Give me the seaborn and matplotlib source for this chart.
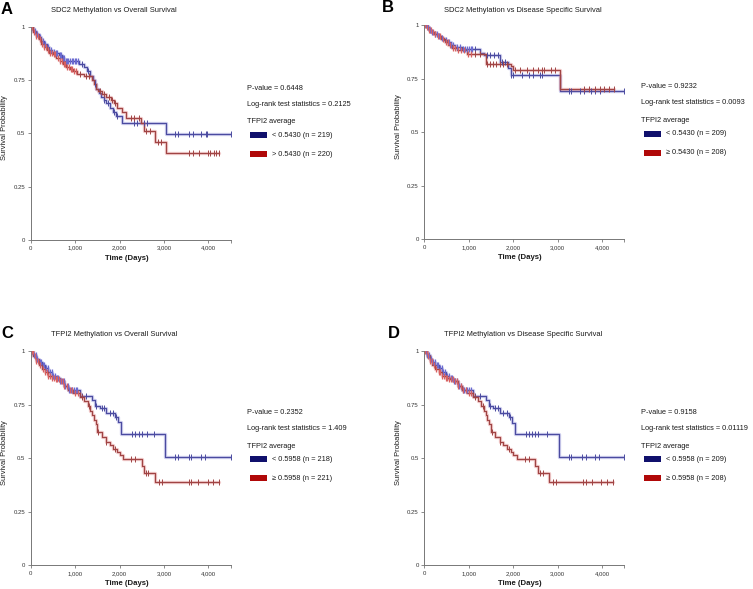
import numpy as np
import pandas as pd
import matplotlib
matplotlib.use("Agg")
import matplotlib.pyplot as plt
import matplotlib.patches as mpatches
import seaborn as sns

# ---- data (Kaplan-Meier steps: event time, survival after it) ----
a_lo_t = [0, 60, 120, 180, 240, 300, 360, 420, 480, 560, 640, 700, 760, 1080, 1200, 1260, 1330, 1400,
          1440, 1480, 1530, 1580, 1640, 1700, 1780, 1850, 1920, 2050, 3050]
a_lo_s = [1, 0.98, 0.965, 0.95, 0.935, 0.92, 0.905, 0.89, 0.88, 0.875, 0.865, 0.855, 0.84, 0.825, 0.81,
          0.79, 0.77, 0.75, 0.73, 0.71, 0.69, 0.67, 0.655, 0.64, 0.62, 0.60, 0.58, 0.55, 0.495]
a_lo_cens = [40, 100, 150, 200, 270, 330, 390, 450, 520, 570, 600, 650, 680, 720, 750, 790, 820, 850,
             880, 920, 950, 1000, 1030, 1060, 1150, 1300, 1450, 1650, 1750, 1880, 1950, 2320, 2390,
             2540, 2620, 3240, 3320, 3570, 3655, 3840, 3940, 3975, 4500]
a_hi_t = [0, 60, 120, 180, 240, 300, 360, 420, 500, 580, 650, 720, 800, 880, 960, 1050, 1200, 1380, 1420,
          1470, 1520, 1600, 1700, 1800, 1880, 1950, 2050, 2150, 2480, 2550, 2800, 3050]
a_hi_s = [1, 0.975, 0.955, 0.94, 0.92, 0.905, 0.89, 0.875, 0.87, 0.855, 0.84, 0.825, 0.81, 0.80, 0.79,
          0.78, 0.77, 0.75, 0.73, 0.71, 0.70, 0.685, 0.67, 0.655, 0.64, 0.62, 0.60, 0.57, 0.55, 0.51, 0.46, 0.41]
a_hi_cens = [30, 80, 130, 160, 210, 260, 300, 350, 390, 430, 470, 520, 550, 610, 660, 700, 740, 780,
             820, 860, 900, 940, 980, 1020, 1120, 1250, 1320, 1550, 1650, 1760, 1840, 1900, 2250, 2330,
             2430, 2600, 2680, 2870, 2940, 3570, 3655, 3780, 3985, 4045, 4120, 4180, 4245]

b_lo_t = [0, 50, 100, 150, 220, 300, 380, 450, 520, 600, 700, 850, 1250, 1350, 1700, 1880, 1950, 3050]
b_lo_s = [1, 0.99, 0.98, 0.97, 0.96, 0.95, 0.94, 0.93, 0.92, 0.91, 0.90, 0.89, 0.87, 0.86, 0.83, 0.80,
          0.77, 0.695]
b_lo_cens = [30, 80, 130, 180, 240, 280, 340, 400, 480, 560, 610, 650, 740, 800, 880, 920, 950, 1000,
             1040, 1080, 1150, 1400, 1480, 1560, 1650, 1750, 1820, 1960, 2000, 2200, 2350, 2450, 2600,
             2650, 3250, 3300, 3500, 3600, 3750, 3850, 3950, 4500]
b_hi_t = [0, 50, 100, 160, 230, 300, 380, 460, 540, 620, 730, 950, 1380, 1950, 2000, 3050]
b_hi_s = [1, 0.99, 0.98, 0.97, 0.96, 0.95, 0.935, 0.92, 0.91, 0.895, 0.885, 0.865, 0.82, 0.81, 0.79, 0.70]
b_hi_cens = [20, 60, 110, 150, 200, 250, 310, 350, 420, 480, 530, 580, 640, 680, 760, 830, 900, 980,
             1050, 1150, 1250, 1420, 1480, 1550, 1620, 1700, 1780, 1850, 2050, 2150, 2300, 2450, 2550,
             2650, 2700, 2850, 2950, 3600, 3700, 3850, 3950, 4050, 4150, 4260]

c_lo_t = [0, 60, 120, 180, 250, 320, 400, 480, 560, 650, 750, 850, 1100, 1380, 1450, 1550, 1700, 1900,
          1960, 2030, 3030]
c_lo_s = [1, 0.98, 0.965, 0.95, 0.935, 0.92, 0.90, 0.885, 0.875, 0.86, 0.835, 0.82, 0.79, 0.77, 0.745,
          0.735, 0.71, 0.69, 0.67, 0.615, 0.505]
c_lo_cens = [30, 70, 110, 150, 200, 230, 280, 310, 350, 390, 430, 470, 510, 550, 590, 620, 660, 700,
             740, 780, 830, 870, 900, 940, 970, 1010, 1040, 1150, 1250, 1480, 1600, 1650, 1780, 1850,
             1920, 2280, 2350, 2430, 2500, 2620, 2770, 3255, 3310, 3555, 3615, 3840, 3915, 4500]
c_hi_t = [0, 60, 120, 180, 250, 320, 400, 480, 560, 650, 750, 850, 950, 1100, 1200, 1280, 1340, 1380,
          1420, 1460, 1500, 1600, 1700, 1780, 1850, 1950, 2000, 2080, 2500, 2550, 2800]
c_hi_s = [1, 0.975, 0.955, 0.935, 0.915, 0.90, 0.885, 0.875, 0.87, 0.86, 0.835, 0.82, 0.805, 0.785,
          0.765, 0.745, 0.72, 0.70, 0.68, 0.66, 0.62, 0.60, 0.575, 0.56, 0.545, 0.53, 0.515, 0.495,
          0.465, 0.43, 0.39]
c_hi_cens = [20, 50, 90, 130, 170, 220, 270, 320, 360, 400, 440, 480, 520, 560, 600, 640, 690, 730,
             760, 820, 880, 940, 1000, 1060, 1150, 1320, 1520, 1700, 1900, 2260, 2350, 2600, 2650,
             2880, 2950, 3555, 3615, 3770, 3985, 4105, 4230]

d_lo_t = [0, 60, 120, 180, 250, 320, 400, 480, 560, 650, 750, 850, 1100, 1380, 1450, 1550, 1700, 1900,
          1970, 2045, 3040]
d_lo_s = [1, 0.98, 0.965, 0.95, 0.935, 0.92, 0.90, 0.885, 0.875, 0.86, 0.835, 0.82, 0.79, 0.77, 0.745,
          0.735, 0.71, 0.69, 0.665, 0.615, 0.505]
d_lo_cens = [30, 70, 110, 150, 200, 230, 280, 310, 350, 390, 430, 470, 510, 550, 590, 620, 660, 700,
             740, 780, 830, 870, 900, 940, 970, 1010, 1040, 1150, 1250, 1480, 1600, 1650, 1780, 1850,
             1920, 2280, 2350, 2430, 2500, 2560, 2770, 3255, 3310, 3555, 3640, 3840, 3920, 4500]
d_hi_t = [0, 60, 120, 180, 250, 320, 400, 480, 560, 650, 750, 850, 950, 1100, 1200, 1280, 1340, 1380,
          1420, 1460, 1500, 1600, 1700, 1780, 1850, 1950, 2000, 2080, 2500, 2560, 2810]
d_hi_s = [1, 0.975, 0.955, 0.935, 0.915, 0.90, 0.885, 0.875, 0.87, 0.86, 0.835, 0.82, 0.805, 0.785,
          0.765, 0.745, 0.72, 0.70, 0.68, 0.66, 0.62, 0.60, 0.575, 0.56, 0.545, 0.53, 0.515, 0.495,
          0.465, 0.43, 0.39]
d_hi_cens = [20, 50, 90, 130, 170, 220, 270, 320, 360, 400, 440, 480, 520, 560, 600, 640, 690, 730,
             760, 820, 880, 940, 1000, 1060, 1150, 1320, 1520, 1700, 1900, 2260, 2350, 2610, 2660,
             2890, 2960, 3560, 3630, 3770, 3985, 4105, 4240]

panel_letters = ["A", "B", "C", "D"]
titles = ["SDC2 Methylation vs Overall Survival", "SDC2 Methylation vs Disease Specific Survival",
          "TFPI2 Methylation vs Overall Survival", "TFPI2 Methylation vs Disease Specific Survival"]
p_values = ["0.6448", "0.9232", "0.2352", "0.9158"]
logrank = ["0.2125", "0.0093", "1.409", "0.01119"]
lo_labels = ["< 0.5430 (n = 219)", "< 0.5430 (n = 209)", "< 0.5958 (n = 218)", "< 0.5958 (n = 209)"]
hi_labels = ["> 0.5430 (n = 220)", "≥ 0.5430 (n = 208)", "≥ 0.5958 (n = 221)", "≥ 0.5958 (n = 208)"]
lo_ends = [4500, 4500, 4500, 4500]
hi_ends = [4245, 4260, 4230, 4240]

curves = [
    (a_lo_t, a_lo_s, a_lo_cens, a_hi_t, a_hi_s, a_hi_cens),
    (b_lo_t, b_lo_s, b_lo_cens, b_hi_t, b_hi_s, b_hi_cens),
    (c_lo_t, c_lo_s, c_lo_cens, c_hi_t, c_hi_s, c_hi_cens),
    (d_lo_t, d_lo_s, d_lo_cens, d_hi_t, d_hi_s, d_hi_cens),
]

sns.set_style("white")
plt.rcParams["font.family"] = ["Liberation Sans", "DejaVu Sans"]

W, H = 753, 589
fig = plt.figure(figsize=(W / 100, H / 100), dpi=100)


def fx(x):
    return x / W


def fy(y):
    return 1 - y / H


# axes boxes in pixels: left, top, right, bottom
boxes = [(30.7, 26.7, 230.7, 240.0), (424.3, 25.3, 624.3, 239.3),
         (30.7, 351.0, 230.7, 565.3), (424.3, 351.0, 624.3, 565.3)]
title_pos = [(114, 11), (523, 10), (114, 334), (523, 334)]
letter_pos = [(1, 10), (382, 8), (1, 333), (388, 334)]

blue_line, red_line = "#4b4ba0", "#a04444"
blue_tick, red_tick = "#6a6ad0", "#d86060"
blue_patch, red_patch = "#10106c", "#b00808"


def step_frame(times, surv, end):
    return pd.DataFrame({"time": list(times) + [end], "surv": list(surv) + [surv[-1]]})


def censor_frame(times, surv, cens):
    idx = np.searchsorted(np.array(times), np.array(cens), side="right") - 1
    return pd.DataFrame({"time": cens, "surv": np.array(surv)[idx]})


for i, (l, t, r, b) in enumerate(boxes):
    ax = fig.add_axes([fx(l), fy(b), fx(r - l), (b - t) / H])
    lo_t, lo_s, lo_c, hi_t, hi_s, hi_c = curves[i]

    for tt, ss, cc, end, lc, tc in [(lo_t, lo_s, lo_c, lo_ends[i], blue_line, blue_tick),
                                     (hi_t, hi_s, hi_c, hi_ends[i], red_line, red_tick)]:
        df = step_frame(tt, ss, end)
        sns.lineplot(data=df, x="time", y="surv", drawstyle="steps-post", color=tc, lw=2.4,
                     alpha=0.3, ax=ax, sort=False)
        sns.lineplot(data=df, x="time", y="surv", drawstyle="steps-post", color=lc, lw=0.9,
                     ax=ax, sort=False)
        cf = censor_frame(tt, ss, cc)
        early = cf[cf["time"] < 1100]
        late = cf[cf["time"] >= 1100]
        sns.scatterplot(data=early, x="time", y="surv", marker="|", s=24, linewidth=0.9, color=tc,
                        ax=ax, zorder=3)
        sns.scatterplot(data=late, x="time", y="surv", marker="|", s=22, linewidth=0.7, color=lc,
                        ax=ax, zorder=3)

    ax.set_xlim(0, 4500)
    ax.set_ylim(0, 1)
    ax.set_xticks([0, 1000, 2000, 3000, 4000, 4500])
    ax.set_xticklabels(["0", "1,000", "2,000", "3,000", "4,000", ""])
    ax.set_yticks([0, 0.25, 0.5, 0.75, 1])
    ax.set_yticklabels(["0", "0.25", "0.5", "0.75", "1"])
    ax.tick_params(axis="both", labelsize=4.3, length=2.5, width=0.6, color="#777777",
                   labelcolor="#333333", pad=1.5, left=True, bottom=True)
    ax.set_xlabel("")
    ax.set_ylabel("")
    for side in ["top", "right"]:
        ax.spines[side].set_visible(False)
    for side in ["left", "bottom"]:
        ax.spines[side].set_color("#777777")
        ax.spines[side].set_linewidth(0.7)
    ax.patch.set_alpha(0)

    # titles, labels, panel letters
    tx, ty = title_pos[i]
    fig.text(fx(tx), fy(ty), titles[i], ha="center", va="center", fontsize=5.4, color="#1a1a1a")
    lx, ly = letter_pos[i]
    fig.text(fx(lx), fy(ly), panel_letters[i], ha="left", va="center", fontsize=12,
             fontweight="bold", color="black")
    fig.text(fx((l + r) / 2 - 4), fy(b + 18), "Time (Days)", ha="center", va="center",
             fontsize=5.6, fontweight="bold", color="#1a1a1a")
    fig.text(fx(l - 26), fy((t + b) / 2 - 6), "Survival Probability", ha="center", va="center",
             rotation=90, fontsize=5.4, color="#1a1a1a")

    # statistics and group key on the right
    sx = r + 16.5
    fig.text(fx(sx), fy(t + 61.5), f"P-value = {p_values[i]}", ha="left", va="center",
             fontsize=5.3, color="#1a1a1a")
    fig.text(fx(sx), fy(t + 77.5), f"Log-rank test statistics = {logrank[i]}", ha="left",
             va="center", fontsize=5.3, color="#1a1a1a")
    fig.text(fx(sx), fy(t + 95), "TFPI2 average", ha="left", va="center", fontsize=5.3,
             color="#1a1a1a")
    for dy, pc, lab in [(108.3, blue_patch, lo_labels[i]), (127.3, red_patch, hi_labels[i])]:
        fig.add_artist(mpatches.Rectangle((fx(sx + 3), fy(t + dy + 3)), 17 / W, 6 / H,
                                          transform=fig.transFigure, color=pc, lw=0))
        fig.text(fx(sx + 25), fy(t + dy), lab, ha="left", va="center", fontsize=5.3,
                 color="#1a1a1a")

fig.savefig("out.png", dpi=100)
